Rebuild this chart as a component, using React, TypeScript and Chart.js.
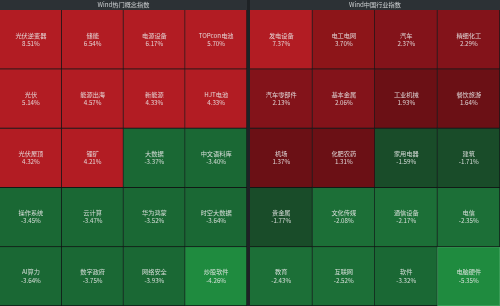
import React, { useEffect, useRef } from "react";
import { Chart, registerables } from "chart.js";

Chart.register(...registerables);

const leftTitle = "Wind热门概念指数";
const leftNames = [
  "光伏逆变器", "储能", "电源设备", "TOPcon电池",
  "光伏", "能源出海", "新能源", "HJT电池",
  "光伏屋顶", "锂矿", "大数据", "中文语料库",
  "操作系统", "云计算", "华为鸿蒙", "时空大数据",
  "AI算力", "数字政府", "网络安全", "炒股软件",
];
const leftValues = [
  8.51, 6.54, 6.17, 5.7,
  5.14, 4.57, 4.33, 4.33,
  4.32, 4.21, -3.37, -3.4,
  -3.45, -3.47, -3.52, -3.64,
  -3.64, -3.75, -3.93, -4.26,
];

const rightTitle = "Wind中国行业指数";
const rightNames = [
  "发电设备", "电工电网", "汽车", "精细化工",
  "汽车零部件", "基本金属", "工业机械", "餐饮旅游",
  "机场", "化肥农药", "家用电器", "建筑",
  "贵金属", "文化传媒", "通信设备", "电信",
  "教育", "互联网", "软件", "电脑硬件",
];
const rightValues = [
  7.37, 3.7, 2.37, 2.29,
  2.13, 2.06, 1.93, 1.64,
  1.37, 1.31, -1.59, -1.71,
  -1.77, -2.08, -2.17, -2.35,
  -2.43, -2.52, -3.32, -5.35,
];

const COLS = 4;
const ROWS = 5;
const highlighted = "电脑硬件";
const FONT_FAMILY = '"Noto Sans CJK SC", "Noto Sans", sans-serif';

function colorFor(v: number): string {
  if (v >= 4) return "#b21c23";
  if (v >= 3) return "#8d1519";
  if (v >= 2) return "#83131a";
  if (v > 0) return "#6b1015";
  if (v > -2) return "#194c29";
  if (v > -3) return "#1c6f37";
  if (v > -4) return "#1a6834";
  return "#1f8b3f";
}

const labelPlugin = {
  id: "cellLabels",
  afterDatasetsDraw(chart: any) {
    const ctx = chart.ctx;
    const names: string[] = chart.options.plugins.cellLabels.names;
    const values: number[] = chart.options.plugins.cellLabels.values;
    ctx.save();
    ctx.textAlign = "center";
    ctx.textBaseline = "middle";
    ctx.fillStyle = "rgba(236,236,236,0.88)";
    ctx.font = "6.2px " + FONT_FAMILY;
    chart.data.datasets.forEach((_ds: any, r: number) => {
      const meta = chart.getDatasetMeta(r);
      meta.data.forEach((el: any, c: number) => {
        const i = r * COLS + c;
        const cx = el.x;
        const cy = (el.y + el.base) / 2;
        ctx.fillText(names[i], cx, cy - 4.3);
        ctx.fillText(values[i].toFixed(2) + "%", cx, cy + 3.9);
      });
    });
    ctx.restore();
  },
};

function Panel({ title, names, values, width }: { title: string; names: string[]; values: number[]; width: number }) {
  const ref = useRef<HTMLCanvasElement | null>(null);
  useEffect(() => {
    if (!ref.current) return;
    const datasets = Array.from({ length: ROWS }, (_, r) => {
      const rowVals = values.slice(r * COLS, r * COLS + COLS);
      const rowNames = names.slice(r * COLS, r * COLS + COLS);
      return {
        label: "row" + (r + 1),
        data: rowVals.map(() => 1),
        backgroundColor: rowVals.map(colorFor),
        borderColor: rowNames.map((n) => (n === highlighted ? "#45a463" : "rgba(10,12,12,0.75)")),
        borderWidth: (ctx: any) =>
          rowNames[ctx.dataIndex] === highlighted
            ? { top: 1, left: 1, right: 1, bottom: 1 }
            : { top: 0, left: 0, right: 1, bottom: 1 },
        borderSkipped: false,
        categoryPercentage: 1,
        barPercentage: 1,
        stack: "s",
      };
    });
    const chart = new Chart(ref.current, {
      type: "bar",
      data: { labels: ["c1", "c2", "c3", "c4"], datasets },
      options: {
        animation: false,
        responsive: false,
        maintainAspectRatio: false,
        layout: { padding: 0 },
        events: [],
        scales: {
          x: { display: false, stacked: true },
          y: { display: false, stacked: true, min: 0, max: ROWS, reverse: true },
        },
        plugins: {
          legend: { display: false },
          tooltip: { enabled: false },
          title: {
            display: true,
            text: title,
            color: "#cfd2d4",
            font: { size: 6.2, family: FONT_FAMILY, weight: "normal", lineHeight: 1.2 },
            padding: { top: 1.4, bottom: 1.2 },
          },
          cellLabels: { names, values },
        } as any,
      },
      plugins: [labelPlugin],
    });
    return () => chart.destroy();
  }, []);
  return (
    <div style={{ width, height: 306, background: "#2c3135" }}>
      <canvas ref={ref} width={width} height={306} style={{ display: "block", width, height: 306 }} />
    </div>
  );
}

export default function App() {
  return (
    <div
      style={{
        position: "fixed",
        left: 0,
        top: 0,
        width: 500,
        height: 306,
        background: "#1e2225",
        display: "flex",
        justifyContent: "space-between",
      }}
    >
      <Panel title={leftTitle} names={leftNames} values={leftValues} width={247} />
      <Panel title={rightTitle} names={rightNames} values={rightValues} width={250} />
    </div>
  );
}
